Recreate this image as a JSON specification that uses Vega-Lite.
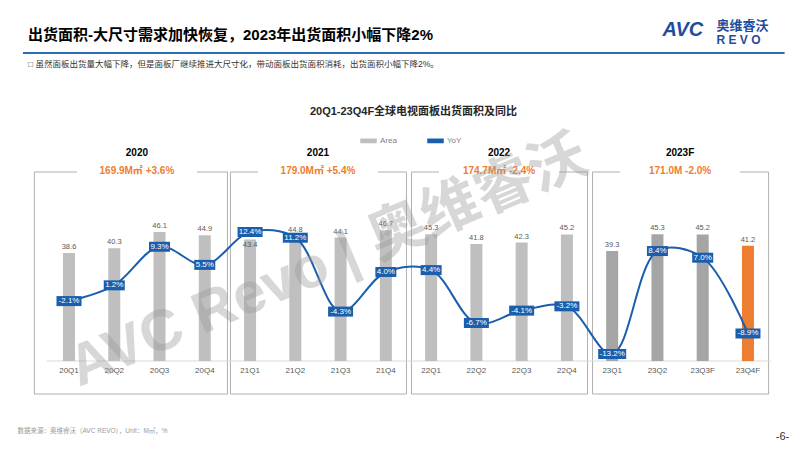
{
  "$schema": "https://vega.github.io/schema/vega-lite/v6.json",
  "width": 757,
  "height": 216,
  "autosize": {"type": "none"},
  "padding": {"left": 23, "top": 145, "right": 22, "bottom": 90},
  "background": "white",
  "config": {
    "font": "Liberation Sans, Noto Sans CJK SC",
    "view": {"stroke": null},
    "axis": {"grid": false},
    "locale": {"number": {"decimal": ".", "thousands": ",", "grouping": [3], "currency": ["$", ""], "minus": "-", "percent": "%"}}
  },
  "title": {
    "text": "出货面积-大尺寸需求加快恢复，2023年出货面积小幅下降2%",
    "subtitle": "□  虽然面板出货量大幅下降，但是面板厂继续推进大尺寸化，带动面板出货面积消耗，出货面积小幅下降2%。",
    "anchor": "start",
    "frame": "group",
    "dx": 5,
    "dy": 49,
    "offset": 0,
    "fontSize": 15,
    "fontWeight": "bold",
    "color": "#000000",
    "subtitleFontSize": 8.5,
    "subtitleColor": "#333333",
    "subtitlePadding": 17
  },
  "datasets": {
    "q": [
      {"quarter": "20Q1", "year": "2020", "area": 38.6, "yoy": -0.021, "group": "Area"},
      {"quarter": "20Q2", "year": "2020", "area": 40.3, "yoy": 0.012, "group": "Area"},
      {"quarter": "20Q3", "year": "2020", "area": 46.1, "yoy": 0.093, "group": "Area"},
      {"quarter": "20Q4", "year": "2020", "area": 44.9, "yoy": 0.055, "group": "Area"},
      {"quarter": "21Q1", "year": "2021", "area": 43.4, "yoy": 0.124, "group": "Area"},
      {"quarter": "21Q2", "year": "2021", "area": 44.8, "yoy": 0.112, "group": "Area"},
      {"quarter": "21Q3", "year": "2021", "area": 44.1, "yoy": -0.043, "group": "Area"},
      {"quarter": "21Q4", "year": "2021", "area": 46.7, "yoy": 0.040, "group": "Area"},
      {"quarter": "22Q1", "year": "2022", "area": 45.3, "yoy": 0.044, "group": "Area"},
      {"quarter": "22Q2", "year": "2022", "area": 41.8, "yoy": -0.067, "group": "Area"},
      {"quarter": "22Q3", "year": "2022", "area": 42.3, "yoy": -0.041, "group": "Area"},
      {"quarter": "22Q4", "year": "2022", "area": 45.2, "yoy": -0.032, "group": "Area"},
      {"quarter": "23Q1", "year": "2023", "area": 39.3, "yoy": -0.132, "group": "Area 2023"},
      {"quarter": "23Q2", "year": "2023", "area": 45.3, "yoy": 0.084, "group": "Area 2023"},
      {"quarter": "23Q3F", "year": "2023", "area": 45.2, "yoy": 0.070, "group": "Area 2023"},
      {"quarter": "23Q4F", "year": "2023", "area": 41.2, "yoy": -0.089, "group": "Area 2023F"}
    ],
    "years": [
      {"year": "2020", "label": "2020", "first": "20Q1", "last": "20Q4", "mid": "20Q2", "total": "169.9M㎡ +3.6%"},
      {"year": "2021", "label": "2021", "first": "21Q1", "last": "21Q4", "mid": "21Q2", "total": "179.0M㎡ +5.4%"},
      {"year": "2022", "label": "2022", "first": "22Q1", "last": "22Q4", "mid": "22Q2", "total": "174.7M㎡ -2.4%"},
      {"year": "2023", "label": "2023F", "first": "23Q1", "last": "23Q4F", "mid": "23Q2", "total": "171.0M -2.0%"}
    ]
  },
  "resolve": {
    "scale": {"y": "independent"},
    "axis": {"x": "independent", "y": "independent"}
  },
  "layer": [
    {
      "data": {"name": "years"},
      "transform": [{"filter": "datum.year == '2020'"}],
      "mark": {"type": "rect", "fill": "white", "fillOpacity": 0, "stroke": "#b0b0b0", "strokeWidth": 1, "xOffset": -12},
      "encoding": {
        "x": {"field": "first", "type": "nominal", "bandPosition": 0, "axis": null,
              "scale": {"domain": ["20Q1","20Q2","20Q3","20Q4","21Q1","21Q2","21Q3","21Q4","22Q1","22Q2","22Q3","22Q4","23Q1","23Q2","23Q3F","23Q4F"], "paddingInner": 0, "paddingOuter": 0.362, "align": 0.713}},
        "x2": {"field": "last", "bandPosition": 1},
        "y": {"datum": 67.5, "type": "quantitative", "scale": {"domain": [0, 77.14], "nice": false},
              "axis": {"orient": "left", "labels": false, "ticks": false, "domain": false, "grid": false,
                       "title": "奥维睿沃", "titleX": 693, "titleY": -119.5, "titleAngle": 0, "titleAlign": "left", "titleBaseline": "middle",
                       "titleFontSize": 13, "titleFontWeight": "bold", "titleColor": "#1F4E9C"}},
        "y2": {"datum": -11.8}
      }
    },
    {
      "data": {"name": "years"},
      "transform": [{"filter": "datum.year != '2020'"}],
      "mark": {"type": "rect", "fill": "white", "fillOpacity": 0, "stroke": "#b0b0b0", "strokeWidth": 1, "xOffset": 3, "x2Offset": -2},
      "encoding": {
        "x": {"field": "first", "type": "nominal", "bandPosition": 0, "axis": null},
        "x2": {"field": "last", "bandPosition": 1},
        "y": {"datum": 67.5, "type": "quantitative", "scale": {"domain": [0, 77.14], "nice": false},
              "axis": {"orient": "left", "labels": false, "ticks": false, "domain": false, "grid": false,
                       "title": "R E V O", "titleX": 693, "titleY": -106, "titleAngle": 0, "titleAlign": "left", "titleBaseline": "middle",
                       "titleFontSize": 12, "titleFontWeight": "bold", "titleColor": "#1F4E9C"}},
        "y2": {"datum": -11.8}
      }
    },
    {
      "data": {"name": "years"},
      "mark": {"type": "rect", "fill": "white", "xOffset": -60, "x2Offset": 60},
      "encoding": {
        "x": {"field": "mid", "type": "nominal", "bandPosition": 1, "axis": null},
        "x2": {"field": "mid", "bandPosition": 1},
        "y": {"datum": 68.4, "type": "quantitative", "scale": {"domain": [0, 77.14], "nice": false},
              "axis": {"orient": "left", "labels": false, "ticks": false, "domain": false, "grid": false, "zindex": 1,
                       "title": "AVC Revo | 奥维睿沃", "titleX": 305, "titleY": 117, "titleAngle": -23, "titleAlign": "center", "titleBaseline": "middle",
                       "titleFontSize": 58, "titleFontWeight": "bold", "titleColor": "#9a9a9a", "titleOpacity": 0.4}},
        "y2": {"datum": 66.6}
      }
    },
    {
      "data": {"name": "years"},
      "transform": [{"filter": "datum.year == '2020'"}],
      "mark": {"type": "rule", "stroke": "#2F6EB5", "strokeWidth": 2, "xOffset": -23.4, "x2Offset": 14},
      "encoding": {
        "x": {"datum": "20Q1", "type": "nominal", "bandPosition": 0, "axis": null},
        "x2": {"datum": "23Q4F", "bandPosition": 1},
        "y": {"datum": 110.0, "type": "quantitative", "scale": {"domain": [0, 77.14], "nice": false}, "axis": null}
      }
    },
    {
      "data": {"name": "years"},
      "mark": {"type": "text", "fontSize": 10, "fontWeight": "bold", "fill": "#000000", "baseline": "middle"},
      "encoding": {
        "x": {"field": "mid", "type": "nominal", "bandPosition": 1, "axis": null},
        "y": {"datum": 74.3, "type": "quantitative", "scale": {"domain": [0, 77.14], "nice": false}, "axis": null},
        "text": {"field": "label"}
      }
    },
    {
      "data": {"name": "years"},
      "mark": {"type": "text", "fontSize": 10, "fontWeight": "bold", "fill": "#ED7D31", "baseline": "middle"},
      "encoding": {
        "x": {"field": "mid", "type": "nominal", "bandPosition": 1, "axis": null},
        "y": {"datum": 67.9, "type": "quantitative", "scale": {"domain": [0, 77.14], "nice": false}, "axis": null},
        "text": {"field": "total"}
      }
    },
    {
      "data": {"name": "q"},
      "mark": {"type": "rule", "stroke": "#d9d9d9", "strokeWidth": 1},
      "encoding": {
        "x": {"field": "quarter", "type": "nominal", "bandPosition": 0, "axis": null},
        "x2": {"field": "quarter", "bandPosition": 1},
        "y": {"datum": 0, "type": "quantitative", "scale": {"domain": [0, 77.14], "nice": false}, "axis": null}
      }
    },
    {
      "data": {"name": "q"},
      "mark": {"type": "bar", "width": 12},
      "encoding": {
        "x": {"field": "quarter", "type": "nominal", "title": "数据来源：奥维睿沃（AVC REVO），Unit：M㎡，%",
              "axis": {"orient": "bottom", "labelAngle": 0, "labelFontSize": 8, "labelColor": "#595959", "labelPadding": 5, "ticks": false, "domain": false,
                       "titleX": -6, "titleY": 69, "titleAlign": "left", "titleBaseline": "middle", "titleFontSize": 6.5, "titleFontWeight": "normal", "titleColor": "#9a9a9a"}},
        "y": {"field": "area", "type": "quantitative", "scale": {"domain": [0, 77.14], "nice": false},
              "axis": {"orient": "left", "labels": false, "ticks": false, "domain": false, "grid": false,
                       "title": "AVC", "titleX": 639, "titleY": -115.5, "titleAngle": 0, "titleAlign": "left", "titleBaseline": "middle",
                       "titleFontSize": 20, "titleFontWeight": "bold", "titleFontStyle": "italic", "titleColor": "#1F4E9C"}},
        "color": {"field": "group", "type": "nominal",
                  "scale": {"domain": ["Area", "Area 2023", "Area 2023F", "YoY"], "range": ["#BFBFBF", "#A5A5A5", "#ED7D31", "#1B5EAB"]},
                  "legend": {"values": ["Area", "YoY"], "title": null, "orient": "none", "legendX": 337, "legendY": -13, "direction": "horizontal",
                             "labelFontSize": 8, "labelColor": "#7f7f7f", "symbolType": "M-1,-0.22L1,-0.22L1,0.22L-1,0.22Z", "symbolSize": 225,
                             "columnPadding": 28, "labelOffset": 3}}
      }
    },
    {
      "data": {"name": "q"},
      "transform": [{"filter": "datum.quarter != '21Q1'"}],
      "mark": {"type": "text", "fontSize": 7.5, "fill": "#595959", "baseline": "bottom", "dy": -2},
      "encoding": {
        "x": {"field": "quarter", "type": "nominal", "axis": null},
        "y": {"field": "area", "type": "quantitative", "scale": {"domain": [0, 77.14], "nice": false}, "axis": null},
        "text": {"field": "area", "type": "quantitative", "format": ".1f"}
      }
    },
    {
      "data": {"name": "q"},
      "transform": [{"filter": "datum.quarter == '21Q1'"}],
      "mark": {"type": "text", "fontSize": 7.5, "fill": "#595959", "baseline": "top", "dy": 2},
      "encoding": {
        "x": {"field": "quarter", "type": "nominal", "axis": null},
        "y": {"field": "area", "type": "quantitative", "scale": {"domain": [0, 77.14], "nice": false}, "axis": null},
        "text": {"field": "area", "type": "quantitative", "format": ".1f"}
      }
    },
    {
      "data": {"name": "q"},
      "mark": {"type": "line", "interpolate": "catmull-rom", "strokeWidth": 2},
      "encoding": {
        "x": {"field": "quarter", "type": "nominal",
              "axis": {"orient": "top", "offset": 93, "labels": false, "ticks": false, "grid": false, "domain": false,
                       "title": "20Q1-23Q4F全球电视面板出货面积及同比", "titleX": 390, "titleY": 59, "titleAlign": "center", "titleBaseline": "middle",
                       "titleFontSize": 11, "titleFontWeight": "bold", "titleColor": "#262626"}},
        "y": {"field": "yoy", "type": "quantitative", "scale": {"domain": [-0.1467, 0.3065], "nice": false},
              "axis": {"orient": "right", "labels": false, "ticks": false, "domain": false, "grid": false,
                       "title": "-6-", "titleX": 2, "titleY": 291, "titleAngle": 0, "titleAlign": "center", "titleBaseline": "middle",
                       "titleFontSize": 11, "titleFontWeight": "normal", "titleColor": "#333333"}},
        "color": {"datum": "YoY", "type": "nominal"}
      }
    },
    {
      "data": {"name": "q"},
      "transform": [{"filter": "datum.yoy >= 0 && datum.yoy < 0.1"}],
      "mark": {"type": "bar", "width": 21, "fill": "#1B5EAB", "yOffset": -5, "y2Offset": 5},
      "encoding": {
        "x": {"field": "quarter", "type": "nominal", "axis": null},
        "y": {"field": "yoy", "type": "quantitative", "scale": {"domain": [-0.1467, 0.3065], "nice": false}, "axis": null},
        "y2": {"field": "yoy"}
      }
    },
    {
      "data": {"name": "q"},
      "transform": [{"filter": "datum.yoy >= 0.1 || (datum.yoy < 0 && datum.yoy > -0.1)"}],
      "mark": {"type": "bar", "width": 25, "fill": "#1B5EAB", "yOffset": -5, "y2Offset": 5},
      "encoding": {
        "x": {"field": "quarter", "type": "nominal", "axis": null},
        "y": {"field": "yoy", "type": "quantitative", "scale": {"domain": [-0.1467, 0.3065], "nice": false}, "axis": null},
        "y2": {"field": "yoy"}
      }
    },
    {
      "data": {"name": "q"},
      "transform": [{"filter": "datum.yoy <= -0.1"}],
      "mark": {"type": "bar", "width": 28, "fill": "#1B5EAB", "yOffset": -5, "y2Offset": 5},
      "encoding": {
        "x": {"field": "quarter", "type": "nominal", "axis": null},
        "y": {"field": "yoy", "type": "quantitative", "scale": {"domain": [-0.1467, 0.3065], "nice": false}, "axis": null},
        "y2": {"field": "yoy"}
      }
    },
    {
      "data": {"name": "q"},
      "mark": {"type": "text", "fontSize": 8, "fill": "white", "baseline": "middle"},
      "encoding": {
        "x": {"field": "quarter", "type": "nominal", "axis": null},
        "y": {"field": "yoy", "type": "quantitative", "scale": {"domain": [-0.1467, 0.3065], "nice": false}, "axis": null},
        "text": {"field": "yoy", "type": "quantitative", "format": ".1%"}
      }
    }
  ]
}
